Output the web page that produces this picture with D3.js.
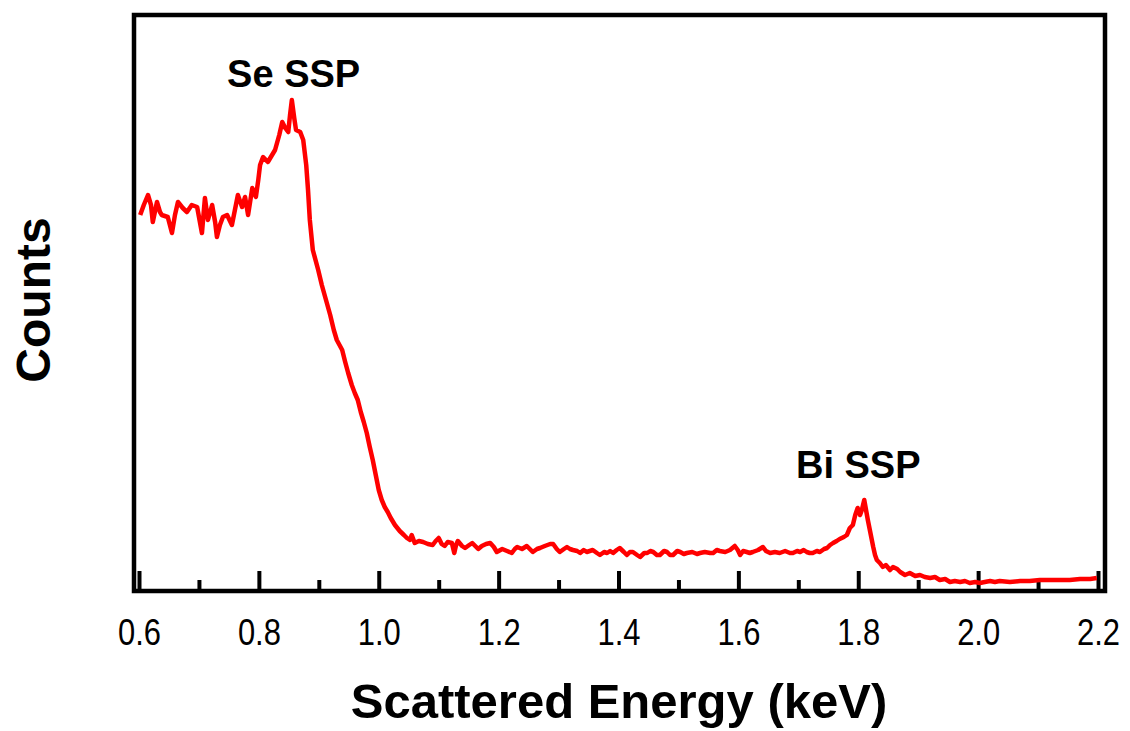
<!DOCTYPE html>
<html>
<head>
<meta charset="utf-8">
<script src="https://cdn.jsdelivr.net/npm/d3@7"></script>
<style>
  body { margin: 0; background: #fff; }
  svg { display: block; }
</style>
</head>
<body>
<svg id="chart" width="1130" height="731"></svg>
<script>

// spectrum: energy (keV) and counts (arbitrary units)
let energy = [0.602,0.608,0.615,0.620,0.623,0.630,0.635,0.638,0.648,0.655,0.660,0.665,0.673,0.680,0.688,0.697,0.705,0.710,0.715,0.722,0.727,0.730,0.735,0.740,0.747,0.755,0.760,0.765,0.772,0.777,0.782,0.789,0.795,0.799,0.802,0.807,0.815,0.822,0.827,0.834,0.839,0.844,0.849,0.852,0.855,0.859,0.862,0.869,0.874,0.879,0.882,0.885,0.890,0.899,0.905,0.912,0.919,0.925,0.930,0.939,0.944,0.949,0.955,0.960,0.965,0.970,0.975,0.980,0.985,0.990,0.995,1.000,1.005,1.010,1.015,1.020,1.027,1.035,1.042,1.047,1.052,1.055,1.060,1.067,1.074,1.082,1.090,1.095,1.100,1.105,1.110,1.115,1.122,1.126,1.129,1.132,1.139,1.144,1.151,1.156,1.161,1.166,1.172,1.179,1.186,1.192,1.197,1.206,1.214,1.222,1.227,1.231,1.239,1.247,1.252,1.257,1.264,1.269,1.277,1.286,1.291,1.297,1.302,1.309,1.314,1.319,1.324,1.331,1.336,1.342,1.347,1.352,1.357,1.364,1.369,1.376,1.381,1.386,1.391,1.397,1.402,1.409,1.414,1.419,1.424,1.431,1.436,1.443,1.448,1.453,1.458,1.464,1.469,1.476,1.481,1.486,1.491,1.498,1.503,1.509,1.514,1.523,1.531,1.536,1.544,1.553,1.558,1.564,1.569,1.578,1.586,1.594,1.599,1.603,1.608,1.614,1.619,1.624,1.633,1.641,1.646,1.653,1.661,1.669,1.678,1.686,1.691,1.698,1.703,1.709,1.714,1.719,1.724,1.731,1.736,1.743,1.748,1.753,1.758,1.764,1.769,1.776,1.781,1.786,1.791,1.795,1.799,1.803,1.806,1.810,1.813,1.816,1.820,1.825,1.828,1.831,1.836,1.841,1.846,1.853,1.858,1.865,1.870,1.878,1.886,1.895,1.903,1.911,1.920,1.928,1.936,1.945,1.953,1.961,1.970,1.978,1.986,1.995,2.003,2.011,2.020,2.028,2.036,2.053,2.070,2.086,2.103,2.120,2.137,2.153,2.170,2.187,2.198];

let counts = [375,385,395,385,368,388,378,375,373,357,375,388,382,378,385,383,357,392,370,385,368,353,365,373,375,365,380,395,383,393,375,402,393,410,425,433,428,435,440,455,468,462,458,475,490,472,460,458,450,425,400,370,340,320,305,290,275,260,250,240,228,217,205,197,190,178,168,157,143,130,115,100,90,83,78,72,65,59,55,52,50,55,47,49,48,46,45,49,52,46,44,48,47,37,45,49,44,42,45,47,44,41,44,46,47,43,38,41,39,37,41,43,41,44,41,38,41,42,44,46,46,41,38,41,43,41,40,39,37,40,38,39,40,37,35,38,37,39,37,40,42,38,35,38,38,35,33,37,37,39,38,35,35,39,38,35,35,39,38,36,37,38,36,37,38,37,37,40,39,38,40,44,40,35,39,38,37,38,40,43,39,37,38,37,39,37,37,39,38,40,38,37,37,39,38,41,42,45,47,49,51,53,55,62,65,75,82,75,80,90,80,70,58,43,35,30,27,23,25,20,23,21,18,15,17,14,15,13,12,13,10,11,8,9,8,9,7,8,7,8,9,8,9,8,9,9,10,10,10,10,11,11,12];

let majorTicks = [0.6, 0.8, 1.0, 1.2, 1.4, 1.6, 1.8, 2.0, 2.2];
let minorTicks = [0.7, 0.9, 1.1, 1.3, 1.5, 1.7, 1.9, 2.1];

// peak labels
let peakNames = ["Se SSP", "Bi SSP"];
let peakPos = [0.858, 1.80];
let peakHeights = [503, 112];

let svg = d3.select("#chart");

// frame of the plot
let frame = {left: 134, top: 15, right: 1105, bottom: 591};

let x = d3.scaleLinear()
    .domain([0.6, 2.2])
    .range([139, 1098]);

let y = d3.scaleLinear()
    .domain([0, 575])
    .range([590, 15]);

// the box around the plot
svg.append("rect")
    .attr("x", frame.left)
    .attr("y", frame.top)
    .attr("width", frame.right - frame.left)
    .attr("height", frame.bottom - frame.top)
    .attr("fill", "none")
    .attr("stroke", "#000")
    .attr("stroke-width", 4.5);

// bottom axis, ticks pointing inside
let xAxis = d3.axisBottom(x)
    .tickValues(majorTicks)
    .tickSize(-20)
    .tickPadding(28)
    .tickFormat(d3.format(".1f"));

let gx = svg.append("g")
    .attr("transform", "translate(0," + frame.bottom + ")")
    .call(xAxis);
gx.select(".domain").remove();
gx.selectAll(".tick line").attr("stroke", "#000").attr("stroke-width", 4);
// labels in the picture are tall and narrow
gx.selectAll(".tick text")
    .attr("font-family", "Liberation Sans, Arial, sans-serif")
    .attr("font-size", 36)
    .attr("textLength", 43)
    .attr("lengthAdjust", "spacingAndGlyphs")
    .attr("fill", "#000");

let minorAxis = d3.axisBottom(x)
    .tickValues(minorTicks)
    .tickSize(-11)
    .tickFormat("");

let gm = svg.append("g")
    .attr("transform", "translate(0," + frame.bottom + ")")
    .call(minorAxis);
gm.select(".domain").remove();
gm.selectAll(".tick line").attr("stroke", "#000").attr("stroke-width", 4);

// the spectrum
let points = energy.map((e, i) => ({e: e, c: counts[i]}));

svg.append("path")
    .datum(points)
    .attr("fill", "none")
    .attr("stroke", "#ff0000")
    .attr("stroke-width", 4.5)
    .attr("stroke-linejoin", "round")
    .attr("d", d3.line()
        .x(function(d) { return x(d.e) })
        .y(function(d) { return y(d.c) }));

// peak labels
svg.selectAll(".peak")
    .data(peakNames)
    .enter()
    .append("text")
    .attr("class", "peak")
    .attr("x", (d, i) => x(peakPos[i]))
    .attr("y", (d, i) => y(peakHeights[i]))
    .attr("text-anchor", "middle")
    .attr("font-family", "Liberation Sans, Arial, sans-serif")
    .attr("font-weight", "bold")
    .attr("font-size", 38)
    .text(d => d);

// axis titles
svg.append("text")
    .attr("x", 619)
    .attr("y", 718)
    .attr("text-anchor", "middle")
    .attr("font-family", "Liberation Sans, Arial, sans-serif")
    .attr("font-weight", "bold")
    .attr("font-size", 49)
    .text("Scattered Energy (keV)");

svg.append("text")
    .attr("transform", "translate(50,300) rotate(-90)")
    .attr("text-anchor", "middle")
    .attr("font-family", "Liberation Sans, Arial, sans-serif")
    .attr("font-weight", "bold")
    .attr("font-size", 48)
    .text("Counts");

</script>
</body>
</html>
